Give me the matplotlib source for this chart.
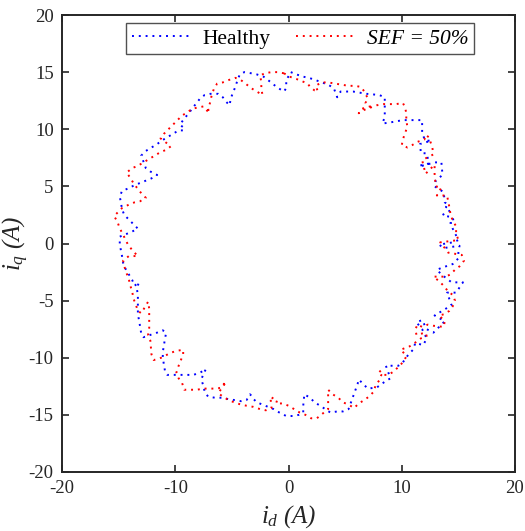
import matplotlib
matplotlib.use("Agg")
import matplotlib.pyplot as plt

plt.rcParams['font.family'] = ['Liberation Serif', 'DejaVu Serif']
plt.rcParams['mathtext.fontset'] = 'custom'
plt.rcParams['mathtext.rm'] = 'Liberation Serif:italic'
plt.rcParams['mathtext.it'] = 'Liberation Serif:italic'
plt.rcParams['axes.unicode_minus'] = False

# healthy trajectory (id, iq) in A
healthy_id = [0.2, 0.7, 1.3, 1.8, 2.4, 3.5, 4.0, 4.3, 4.6, 5.7, 6.9, 8.0, 8.5, 8.5, 8.3,
              9.0, 10.1, 11.8, 11.8, 12.1, 12.6, 11.6, 11.7, 12.2, 12.4, 11.5, 11.8, 12.9, 13.5,
              13.6, 13.0, 12.9, 13.7, 13.8, 14.1, 13.9, 14.3, 13.6, 13.9, 14.5, 14.6, 14.3, 14.5,
              15.0, 14.5, 13.3, 13.7, 15.1, 15.0, 15.0, 14.5, 13.6, 13.1, 13.5, 14.4, 15.4, 14.8,
              14.0, 14.4, 13.4, 12.9, 13.8, 12.8, 12.2, 11.8, 11.3, 11.8, 12.2, 11.9, 11.2, 11.0,
              10.6, 10.1, 9.7, 8.6, 9.0, 8.5, 7.8, 7.0, 6.2, 6.1, 5.7, 5.3, 4.8, 4.3, 3.7, 2.8,
              2.3, 1.9, 1.4, 1.3, 1.3, 0.9, 0.4, -0.2, -0.8, -1.3, -1.8, -2.3, -2.8, -3.1, -3.2,
              -3.4, -3.7, -4.2, -4.8, -5.4, -5.9, -6.5, -7.1, -7.4, -7.5, -7.7, -7.5, -7.3, -7.8,
              -8.4, -8.9, -9.5, -10.1, -10.7, -10.9, -11.0, -11.1, -11.1, -11.0, -10.9, -10.8,
              -11.1, -11.6, -12.2, -12.8, -13.0, -13.1, -13.2, -13.3, -13.3, -13.3, -13.3, -13.4,
              -13.2, -13.6, -13.8, -14.1, -14.4, -14.6, -14.7, -14.8, -14.9, -14.9, -14.4, -13.9,
              -13.3, -13.7, -14.1, -14.5, -14.7, -14.8, -14.9, -14.7, -14.2, -13.6, -13.1, -12.6,
              -12.1, -11.6, -12.2, -12.6, -13.0, -12.6, -12.1, -11.6, -11.2, -10.7, -10.2, -9.7,
              -9.3, -9.2, -9.6, -9.3, -8.9, -8.5, -8.2, -7.8, -7.4, -6.9, -6.2, -5.8, -5.5, -5.2,
              -5.1, -4.9, -4.7, -4.5, -4.3, -3.9, -3.3, -2.8, -2.2, -1.8, -1.3, -0.9, -0.4, -0.2,
              -0.2, 0.1, 0.2]
healthy_iq = [15.0, 14.8, 14.6, 14.5, 14.3, 13.9, 13.6, 12.8, 13.3, 13.3, 13.1, 13.0, 12.8,
              11.1, 10.5, 10.6, 10.8, 10.8, 9.6, 9.0, 9.0, 8.7, 7.9, 7.9, 7.0, 6.8, 6.8, 7.1, 7.1,
              6.0, 5.5, 5.0, 4.5, 3.6, 3.4, 3.2, 2.9, 2.5, 2.4, 2.3, 1.8, 1.8, 1.3, 0.3, 0.1,
              -0.1, -0.4, -0.2, -0.8, -1.3, -1.8, -2.1, -2.3, -2.7, -3.4, -3.4, -4.3, -4.3, -5.4,
              -6.0, -6.3, -6.8, -7.8, -7.5, -6.7, -6.9, -7.5, -8.3, -8.9, -8.7, -9.3, -9.7, -10.4,
              -10.7, -10.7, -11.8, -12.1, -12.6, -12.7, -11.9, -12.3, -13.4, -14.5, -14.7, -14.7,
              -14.8, -14.2, -13.9, -13.5, -13.2, -14.2, -14.8, -15.0, -15.1, -15.1, -14.8, -14.5,
              -14.3, -14.1, -13.9, -13.6, -13.4, -13.2, -13.7, -13.8, -13.7, -13.6, -13.5, -13.5,
              -13.4, -13.0, -12.5, -11.9, -11.4, -11.0, -11.3, -11.5, -11.5, -11.5, -11.5, -11.5,
              -11.2, -10.6, -10.0, -9.5, -8.9, -8.3, -7.8, -7.6, -7.8, -8.0, -8.2, -7.9, -7.3,
              -6.7, -6.2, -5.6, -5.0, -4.5, -3.9, -3.4, -3.7, -3.2, -2.7, -2.2, -1.7, -1.1, -0.6,
              0.0, 0.6, 0.8, 1.0, 1.3, 1.7, 2.1, 2.5, 3.0, 3.6, 4.1, 4.6, 4.8, 5.1, 5.3, 5.5, 5.7,
              6.0, 6.3, 6.6, 7.7, 8.1, 8.4, 8.7, 9.0, 9.3, 9.6, 9.9, 9.9, 10.1, 10.4, 10.8, 11.3,
              11.8, 12.2, 12.7, 13.0, 13.1, 13.1, 12.8, 12.4, 12.1, 12.7, 13.2, 13.7, 14.3, 14.8,
              15.0, 14.9, 14.8, 14.6, 14.3, 13.9, 13.6, 13.3, 13.6, 14.3, 14.8, 15.0]

# SEF = 50% trajectory
sef_id = [-0.4, 0.1, 0.7, 1.2, 1.7, 1.9, 2.3, 2.6, 2.4, 2.9, 3.5, 4.1, 4.7, 5.3, 5.9, 6.4,
          6.7, 7.0, 6.8, 7.2, 6.5, 6.2, 6.7, 7.8, 8.4, 9.0, 9.5, 10.1, 10.3, 10.4, 10.4, 10.5,
          10.3, 10.1, 10.0, 10.3, 10.5, 10.9, 11.4, 12.0, 12.1, 12.4, 12.7, 12.8, 11.8, 12.1,
          12.9, 12.9, 13.0, 13.5, 13.1, 14.0, 14.2, 14.3, 14.5, 14.8, 14.8, 15.0, 13.4, 13.8,
          14.1, 15.3, 15.5, 15.1, 14.7, 14.3, 13.9, 12.8, 13.3, 13.7, 14.1, 14.5, 14.7, 14.5,
          14.2, 13.7, 13.3, 13.6, 13.8, 13.7, 12.8, 12.3, 11.8, 11.4, 11.2, 11.3, 12.1, 12.2,
          11.7, 11.3, 10.7, 9.9, 10.2, 10.4, 10.1, 9.7, 9.3, 8.8, 8.4, 8.0, 8.2, 8.0, 7.7, 7.5,
          7.1, 6.7, 6.2, 5.8, 5.3, 4.8, 4.4, 3.9, 3.5, 3.5, 3.5, 3.5, 3.0, 2.5, 2.0, 1.5, 1.0,
          0.5, 0.0, -0.5, -1.1, -1.0, -1.3, -1.6, -1.5, -2.0, -2.5, -3.1, -3.7, -4.2, -4.8,
          -5.3, -5.8, -6.2, -5.5, -5.8, -5.9, -6.3, -6.9, -7.5, -8.1, -8.6, -9.2, -9.4, -9.7,
          -9.9, -9.7, -9.5, -9.3, -9.3, -9.9, -10.5, -11.0, -11.5, -11.9, -12.1, -12.2, -12.4,
          -12.3, -12.3, -12.3, -12.3, -12.4, -12.7, -13.0, -13.3, -13.5, -13.7, -13.8, -14.0,
          -14.1, -14.3, -14.5, -14.6, -14.1, -13.3, -13.7, -14.1, -14.4, -14.6, -14.9, -15.1,
          -15.4, -15.1, -14.7, -14.1, -13.6, -13.1, -12.6, -13.0, -13.4, -13.7, -14.0, -14.3,
          -13.8, -13.3, -12.8, -12.3, -11.8, -11.3, -10.8, -10.4, -10.9, -11.3, -11.0, -10.6,
          -10.2, -9.8, -9.4, -8.9, -8.5, -8.0, -7.5, -7.0, -7.1, -6.9, -6.8, -6.6, -6.3, -5.8,
          -5.3, -4.7, -4.2, -3.8, -3.3, -2.8, -2.3, -2.4, -2.4, -2.5, -2.1, -1.5, -1.0, -0.4]
sef_iq = [14.9, 14.6, 14.4, 14.2, 14.0, 13.7, 13.4, 13.3, 13.8, 14.1, 14.1, 14.0, 13.9, 13.8,
          13.8, 13.7, 13.3, 12.7, 12.3, 12.0, 11.8, 11.4, 11.7, 12.1, 12.2, 12.2, 12.2, 12.3,
          11.9, 11.4, 10.8, 10.2, 9.7, 9.1, 8.6, 8.5, 8.4, 8.6, 8.9, 9.1, 9.5, 9.3, 8.4, 7.8,
          7.3, 6.1, 6.9, 6.1, 5.0, 4.9, 4.2, 4.2, 3.2, 2.6, 2.0, 1.5, 0.9, 0.3, 0.1, -0.4,
          -0.8, -1.0, -1.5, -2.0, -2.3, -2.7, -2.9, -2.9, -3.3, -3.7, -4.2, -4.5, -5.0, -5.5,
          -5.9, -6.2, -6.3, -6.6, -6.8, -7.3, -7.2, -7.1, -7.3, -7.1, -7.5, -8.0, -7.8, -8.1,
          -8.3, -8.6, -9.0, -9.3, -9.6, -9.9, -10.4, -10.8, -11.2, -11.5, -11.5, -11.1, -11.5,
          -12.0, -12.4, -13.0, -13.4, -13.7, -14.0, -14.4, -14.1, -13.9, -13.5, -13.2, -12.8,
          -13.4, -13.9, -14.5, -14.9, -15.3, -15.3, -15.0, -14.8, -14.5, -14.2, -14.0, -14.0,
          -13.7, -13.6, -13.4, -14.4, -14.6, -14.5, -14.3, -14.2, -14.1, -13.9, -13.7, -13.4,
          -13.1, -12.1, -12.4, -12.6, -12.7, -12.7, -12.7, -12.8, -12.8, -12.8, -12.2, -11.8,
          -11.3, -10.7, -10.2, -9.7, -9.3, -9.4, -9.6, -9.9, -10.1, -10.2, -9.7, -8.5, -8.0,
          -7.4, -6.8, -6.3, -5.7, -5.1, -5.6, -6.1, -5.9, -5.3, -4.8, -4.2, -3.6, -3.1, -2.6,
          -2.0, -1.5, -1.1, -1.1, -0.7, -0.2, 0.3, 0.8, 1.3, 1.9, 2.4, 2.7, 3.1, 3.4, 3.6, 3.7,
          4.0, 4.4, 4.9, 5.3, 5.8, 6.2, 6.6, 6.8, 7.1, 7.4, 7.7, 8.0, 8.2, 8.5, 8.9, 9.2, 9.6,
          10.0, 10.4, 10.8, 11.2, 11.5, 11.8, 11.9, 12.0, 11.4, 11.8, 12.4, 12.9, 13.5, 14.0,
          14.1, 14.3, 14.5, 14.3, 14.0, 13.6, 13.3, 13.0, 13.6, 14.1, 14.7, 14.9, 15.0, 15.0,
          14.9]

ticks = [-20, -10, 0, 10, 20]
yticks = [-20, -15, -10, -5, 0, 5, 10, 15, 20]
dark = '#262626'

fig = plt.figure(figsize=(5.25, 5.31), dpi=100)
ax = fig.add_axes([62 / 525, 59 / 531, 453 / 525, 457 / 531])

dots = (0, (1, 2.5))
ax.plot(healthy_id + healthy_id[:1], healthy_iq + healthy_iq[:1], color='#0000ff',
        linestyle=dots, linewidth=1.4, label='Healthy')
ax.plot(sef_id + sef_id[:1], sef_iq + sef_iq[:1], color='#ff0000',
        linestyle=dots, linewidth=1.4, label='SEF = 50%')

ax.set_xlim(-20, 20)
ax.set_ylim(-20, 20)
ax.set_xticks(ticks)
ax.set_yticks(yticks)
ax.tick_params(direction='in', length=5, width=1.2, top=True, right=True,
               labelsize=13.5, colors=dark, pad=6)
for s in ax.spines.values():
    s.set_linewidth(1.4)
    s.set_color(dark)

ax.set_xlabel(r'$i_{d}\ (A)$', fontsize=18, color=dark, labelpad=4)
ax.set_ylabel(r'$i_{q}\ (A)$', fontsize=18, color=dark, labelpad=-2)

leg = ax.legend(loc='upper center', ncol=2, fontsize=15.5, frameon=True, fancybox=False,
                handlelength=2.7, handletextpad=0.6, columnspacing=1.2,
                borderpad=0.25, borderaxespad=0, bbox_to_anchor=(0.526, 0.982))
leg.get_frame().set_edgecolor(dark)
leg.get_frame().set_linewidth(1.0)
leg.get_texts()[1].set_fontstyle('italic')

fig.savefig('out.png', dpi=100)
